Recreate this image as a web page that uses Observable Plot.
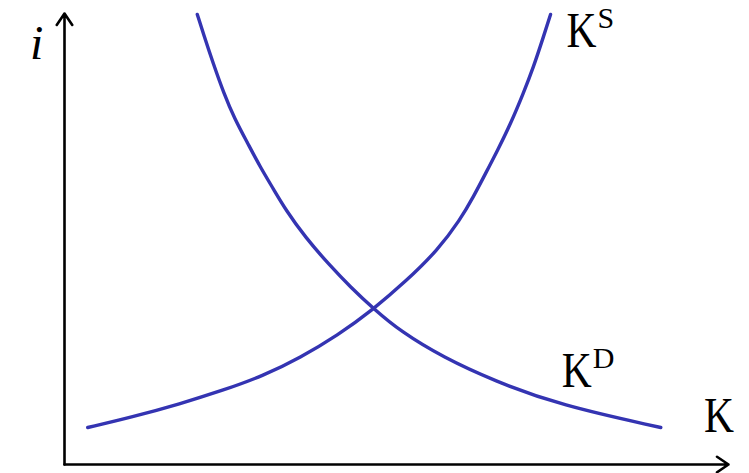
<!DOCTYPE html>
<html>
<head>
<meta charset="utf-8">
<script src="https://cdn.jsdelivr.net/npm/d3@7"></script>
<script src="https://cdn.jsdelivr.net/npm/@observablehq/plot@0.6"></script>
<style>
  html, body { margin: 0; padding: 0; background: #fff; }
  svg { display: block; }
</style>
</head>
<body>
<div id="chart"></div>
<script>
// Capital supply curve K^S (K, i)
const supplyK = [0.35, 0.99, 1.75, 2.38, 3.00, 3.55, 4.11, 4.65, 5.14, 5.62, 5.96, 6.16, 6.34, 6.52, 6.72, 6.91, 7.06, 7.21, 7.32];
const supplyI = [0.82, 1.04, 1.35, 1.64, 1.97, 2.37, 2.86, 3.44, 4.06, 4.75, 5.43, 5.94, 6.45, 6.96, 7.56, 8.23, 8.80, 9.47, 9.98];
// Capital demand curve K^D (K, i)
const demandK = [2.00, 2.09, 2.24, 2.40, 2.56, 2.76, 2.95, 3.15, 3.33, 3.63, 3.98, 4.31, 4.65, 5.06, 5.71, 6.46, 7.47, 8.98];
const demandI = [9.98, 9.56, 8.89, 8.23, 7.67, 7.12, 6.59, 6.10, 5.65, 5.03, 4.44, 3.93, 3.46, 2.95, 2.37, 1.86, 1.31, 0.82];
// Labels: main text, superscript, anchor (K, i)
const labelText = ["K", "K", "K", "i"];
const labelSup = ["S", "D", "", ""];
const labelK = [7.56, 7.49, 9.63, -0.42];
const labelI = [9.25, 1.71, 0.73, 9.0];

const supply = supplyK.map((k, j) => ({K: k, i: supplyI[j]}));
const demand = demandK.map((k, j) => ({K: k, i: demandI[j]}));
const labels = labelText.map((t, j) => ({t, sup: labelSup[j], K: labelK[j], i: labelI[j], ital: t === "i"}));
const axes = [
  {x1: 0, y1: 0, x2: 10, y2: 0},
  {x1: 0, y1: 0, x2: 0, y2: 10}
];

const blue = "#3434b2";
const bigLabels = labels.filter(d => !d.ital);
const plot = Plot.plot({
  width: 749,
  height: 473,
  marginLeft: 64,
  marginRight: 21,
  marginTop: 13,
  marginBottom: 9,
  x: {domain: [0, 10], axis: null},
  y: {domain: [0, 10], axis: null},
  style: {background: "#fff", overflow: "visible"},
  marks: [
    Plot.arrow(axes, {x1: "x1", y1: "y1", x2: "x2", y2: "y2", stroke: "black", strokeWidth: 2.6, headLength: 8, headAngle: 68, bend: 0}),
    Plot.line(supply, {x: "K", y: "i", curve: "basis", stroke: blue, strokeWidth: 3.4}),
    Plot.line(demand, {x: "K", y: "i", curve: "basis", stroke: blue, strokeWidth: 3.4}),
    Plot.text(bigLabels, {x: "K", y: "i", text: "t", textAnchor: "start", lineAnchor: "bottom", fontSize: 51, fontFamily: "Liberation Serif", fill: "black", className: "bigK"}),
    Plot.text(labels.filter(d => d.ital), {x: "K", y: "i", text: "t", textAnchor: "middle", lineAnchor: "bottom", fontSize: 48, fontStyle: "italic", fontFamily: "Liberation Serif", fill: "black"})
  ]
});
// condense the serif capitals to the narrower face of the reference and add superscripts
d3.select(plot).selectAll(".bigK text").nodes().forEach((node, n) => {
  const txt = node.textContent;
  node.textContent = "";
  const sel = d3.select(node);
  sel.append("tspan").attr("textLength", 30).attr("lengthAdjust", "spacingAndGlyphs").text(txt);
  const s = bigLabels[n].sup;
  if (s) sel.append("tspan").attr("font-size", 30).attr("dx", 1).attr("dy", -19).text(s);
});
document.getElementById("chart").appendChild(plot);
</script>
</body>
</html>
